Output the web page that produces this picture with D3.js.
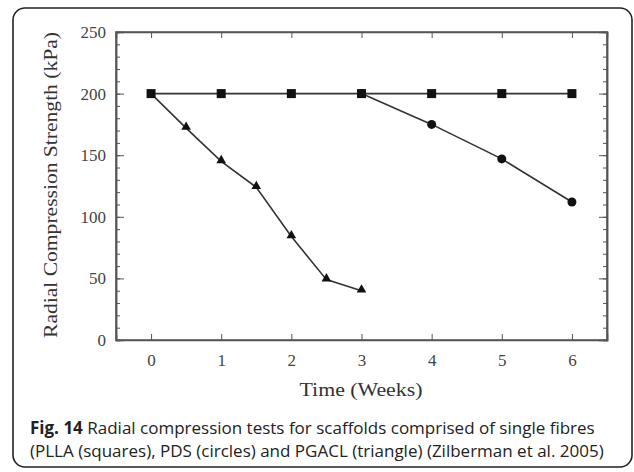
<!DOCTYPE html>
<html>
<head>
<meta charset="utf-8">
<script src="https://cdn.jsdelivr.net/npm/d3@7"></script>
<style>
  body { margin: 0; background: #fff; }
  .axis path, .axis line { stroke: #555; }
  .axis text { font-family: "Liberation Serif", serif; fill: #444; }
</style>
</head>
<body>
<div id="chart"></div>
<script>
// data
const xTicks = [0, 1, 2, 3, 4, 5, 6];
const yTicks = [0, 50, 100, 150, 200, 250];
const weeksPLLA = [0, 1, 2, 3, 4, 5, 6];
const strengthPLLA = [200, 200, 200, 200, 200, 200, 200];
const weeksPDS = [3, 4, 5, 6];
const strengthPDS = [200, 175, 147, 112];
const weeksPGACL = [0, 0.5, 1, 1.5, 2, 2.5, 3];
const strengthPGACL = [200, 172, 145, 124, 84, 49, 40];

let width = 634, height = 472;
let plot = {left: 116, right: 607, top: 32, bottom: 340};

var svg = d3.select("#chart").append("svg")
    .attr("width", width)
    .attr("height", height);

// outer rounded frame
svg.append("rect")
    .attr("x", 13).attr("y", 8)
    .attr("width", 619).attr("height", 459)
    .attr("rx", 12)
    .attr("fill", "none")
    .attr("stroke", "#222")
    .attr("stroke-width", 1.6);

var x = d3.scaleLinear().domain([-0.5, 6.5]).range([plot.left, plot.right]);
var y = d3.scaleLinear().domain([0, 250]).range([plot.bottom, plot.top]);

// box
svg.append("rect")
    .attr("x", plot.left).attr("y", plot.top)
    .attr("width", plot.right - plot.left).attr("height", plot.bottom - plot.top)
    .attr("fill", "none").attr("stroke", "#555").attr("stroke-width", 1.5);

// bottom axis
var gx = svg.append("g").attr("class", "axis")
    .attr("transform", "translate(0," + plot.bottom + ")")
    .call(d3.axisBottom(x).tickValues(xTicks).tickSize(-6).tickPadding(14).tickFormat(d3.format("d")));
gx.selectAll("text").style("font-size", "17px");

// top axis ticks
svg.append("g").attr("class", "axis")
    .attr("transform", "translate(0," + plot.top + ")")
    .call(d3.axisTop(x).tickValues(xTicks).tickSize(-6).tickFormat(""));

// left axis: minor then major
svg.append("g").attr("class", "axis")
    .attr("transform", "translate(" + plot.left + ",0)")
    .call(d3.axisLeft(y).tickValues(d3.range(0, 251, 10)).tickSize(-4).tickFormat(""));
var gy = svg.append("g").attr("class", "axis")
    .attr("transform", "translate(" + plot.left + ",0)")
    .call(d3.axisLeft(y).tickValues(yTicks).tickSize(-8).tickPadding(10));
gy.selectAll("text").style("font-size", "17px");

// right axis
svg.append("g").attr("class", "axis")
    .attr("transform", "translate(" + plot.right + ",0)")
    .call(d3.axisRight(y).tickValues(d3.range(0, 251, 10)).tickSize(-4).tickFormat(""));
svg.append("g").attr("class", "axis")
    .attr("transform", "translate(" + plot.right + ",0)")
    .call(d3.axisRight(y).tickValues(yTicks).tickSize(-8).tickFormat(""));

svg.selectAll(".axis .domain").attr("stroke-width", 1.5);

// axis titles
svg.append("text")
    .attr("x", 361).attr("y", 396)
    .attr("text-anchor", "middle")
    .attr("textLength", 123).attr("lengthAdjust", "spacingAndGlyphs")
    .style("font-family", "Liberation Serif, serif")
    .style("font-size", "19px")
    .style("fill", "#333")
    .text("Time (Weeks)");

svg.append("text")
    .attr("transform", "translate(57,185) rotate(-90)")
    .attr("text-anchor", "middle")
    .attr("textLength", 306).attr("lengthAdjust", "spacingAndGlyphs")
    .style("font-family", "Liberation Serif, serif")
    .style("font-size", "19px")
    .style("fill", "#333")
    .text("Radial Compression Strength (kPa)");

// series
var line = d3.line().x(d => x(d[0])).y(d => y(d[1]));
var pts = (w, s) => w.map((d, i) => [d, s[i]]);

var plla = pts(weeksPLLA, strengthPLLA);
var pds = pts(weeksPDS, strengthPDS);
var pgacl = pts(weeksPGACL, strengthPGACL);

[plla, pds, pgacl].forEach(function (s) {
    svg.append("path").datum(s)
        .attr("d", line)
        .attr("fill", "none")
        .attr("stroke", "#333")
        .attr("stroke-width", 1.6);
});

svg.append("g").selectAll("rect")
    .data(plla).enter().append("rect")
    .attr("x", d => x(d[0]) - 4.5)
    .attr("y", d => y(d[1]) - 4.5)
    .attr("width", 9).attr("height", 9)
    .attr("fill", "#111");

svg.append("g").selectAll("circle")
    .data(pds).enter().append("circle")
    .attr("cx", d => x(d[0]))
    .attr("cy", d => y(d[1]))
    .attr("r", 4.5)
    .attr("fill", "#111");

svg.append("g").selectAll("path")
    .data(pgacl.slice(1)).enter().append("path")
    .attr("d", d3.symbol().type(d3.symbolTriangle).size(40))
    .attr("transform", d => "translate(" + x(d[0]) + "," + (y(d[1]) - 1) + ")")
    .attr("fill", "#111");

// caption
var cap = svg.append("g")
    .style("font-family", "Open Sans, sans-serif")
    .style("font-size", "17px")
    .style("fill", "#222");
var l1 = cap.append("text").attr("x", 30).attr("y", 434);
l1.append("tspan").style("font-weight", "bold").text("Fig. 14");
l1.append("tspan").text(" Radial compression tests for scaffolds comprised of single fibres");
cap.append("text").attr("x", 30).attr("y", 457)
    .text("(PLLA (squares), PDS (circles) and PGACL (triangle) (Zilberman et al. 2005)");
</script>
</body>
</html>
